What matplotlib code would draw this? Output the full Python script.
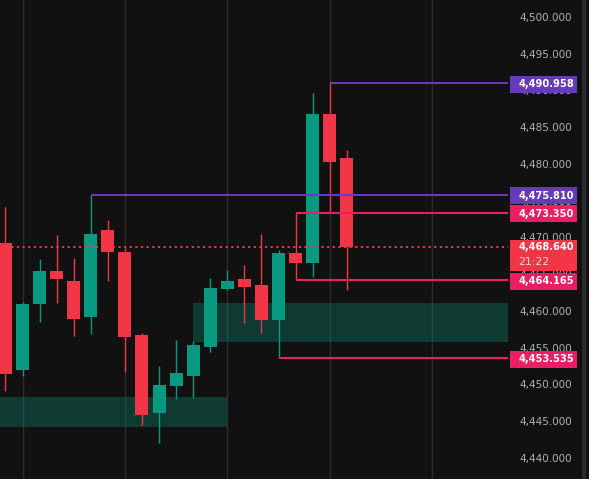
import matplotlib
matplotlib.use("Agg")
import matplotlib.pyplot as plt
from matplotlib.patches import Rectangle
import numpy as np

# ---- data ----
opens  = [4469.25, 4451.97, 4461.00, 4465.44, 4464.08, 4459.22, 4471.02, 4468.03, 4456.73, 4446.16,
          4449.84, 4451.20, 4455.10, 4462.99, 4464.35, 4463.54, 4458.78, 4467.89, 4466.53, 4486.80, 4480.82]
highs  = [4474.15, 4461.22, 4467.07, 4470.34, 4467.21, 4475.81, 4472.38, 4468.57, 4457.01, 4452.52,
          4456.05, 4455.90, 4464.49, 4465.58, 4466.26, 4470.48, 4468.30, 4473.35, 4489.66, 4490.958, 4481.90]
lows   = [4449.16, 4451.20, 4458.54, 4461.13, 4456.64, 4456.91, 4464.12, 4451.74, 4444.53, 4442.08,
          4448.07, 4448.16, 4454.42, 4462.90, 4458.37, 4457.01, 4453.535, 4464.165, 4464.63, 4473.35, 4462.86]
closes = [4451.47, 4460.95, 4465.44, 4464.39, 4458.95, 4470.48, 4468.07, 4456.50, 4445.89, 4449.93,
          4451.56, 4455.37, 4463.13, 4464.08, 4463.27, 4458.78, 4467.89, 4466.53, 4486.80, 4480.27, 4468.64]

level_prices = [4490.958, 4475.810, 4473.350, 4464.165, 4453.535]
level_starts = [19, 5, 17, 17, 16]
level_kinds  = ["purple", "purple", "pink", "pink", "pink"]

zone_lows   = [4444.22, 4455.82]
zone_highs  = [4448.30, 4461.09]
zone_starts = [-1.0, 11.0]
zone_ends   = [13.0, 40.0]

current_price = 4468.64
countdown = "21:22"
tick_values = list(range(4440, 4501, 5))

# ---- style ----
BG = "#111111"
GREEN = "#089981"
RED = "#f23645"
PURPLE = "#673ab7"
PINK = "#e91e63"
GRID = "#2c2c2c"
kind_color = {"purple": PURPLE, "pink": PINK}

W, H = 589, 479
fig = plt.figure(figsize=(W / 100, H / 100), dpi=100, facecolor=BG)
plot_w = 508
ax = fig.add_axes([0, 0, plot_w / W, 1])
ax.set_facecolor(BG)
px = 17.07
x_left = -5.43 / px
x_right = (plot_w - 5.43) / px
ymin, ymax = 4437.14, 4502.31
ax.set_xlim(x_left, x_right)
ax.set_ylim(ymin, ymax)
for s in ax.spines.values():
    s.set_visible(False)
ax.set_xticks([])

# vertical grid
for gx in [1, 7, 13, 19, 25]:
    ax.axvline(gx, color=GRID, lw=1.0, zorder=1)

# zones
for lo, hi, s, e in zip(zone_lows, zone_highs, zone_starts, zone_ends):
    ax.add_patch(Rectangle((s, lo), e - s, hi - lo, facecolor=GREEN, alpha=0.3,
                           edgecolor="none", zorder=2))

# candles
bw = 13 / px
for i, (o, h, l, c) in enumerate(zip(opens, highs, lows, closes)):
    col = GREEN if c >= o else RED
    ax.vlines(i, l, h, color=col, lw=1.0, zorder=3)
    lo_b, hi_b = min(o, c), max(o, c)
    ax.add_patch(Rectangle((i - bw / 2, lo_b), bw, max(hi_b - lo_b, 0.15),
                           facecolor=col, edgecolor="none", zorder=4))

# horizontal levels
for p, st, k in zip(level_prices, level_starts, level_kinds):
    ax.hlines(p, st, x_right, color=kind_color[k], lw=1.5, zorder=5)

# current price dotted line
ax.axhline(current_price, color=RED, lw=1.4, ls=(0, (1.1, 1.8)), zorder=5)

# price scale ticks
ax.yaxis.tick_right()
ax.set_yticks(tick_values)
ax.set_yticklabels([f"{v:,.3f}" for v in tick_values])
ax.tick_params(axis="y", length=0, pad=8, labelsize=7.5, labelcolor="#aeb0b6")

# price scale overlay axes for labels
ax2 = fig.add_axes([plot_w / W, 0, (W - plot_w) / W, 1])
ax2.set_xlim(0, W - plot_w)
ax2.set_ylim(ymin, ymax)
ax2.patch.set_alpha(0)
ax2.axis("off")

# scrollbar strip
ax2.add_patch(Rectangle((74, ymin), 4, ymax - ymin, facecolor="#2b2b2b",
                        edgecolor="none", zorder=1))

unit = 7.35  # px per price unit
bh = 16.7 / unit
for p, k in zip(level_prices, level_kinds):
    yc = p - 0.12
    ax2.add_patch(Rectangle((2, yc - bh / 2), 66.7, bh, facecolor=kind_color[k],
                            edgecolor="none", zorder=5))
    ax2.text(10.5, yc, f"{p:,.3f}", color="white", fontsize=7.1, fontweight="bold",
             va="center", ha="left", zorder=6)

# current price box
top = current_price + 7.5 / unit
bot = current_price - 23.2 / unit
ax2.add_patch(Rectangle((2, bot), 66.7, top - bot, facecolor=RED, edgecolor="none", zorder=5))
ax2.text(10.5, current_price, f"{current_price:,.3f}", color="white", fontsize=7.1,
         fontweight="bold", va="center", ha="left", zorder=6)
ax2.text(10.5, current_price - 14.5 / unit, countdown, color="#ffd3d6", fontsize=7.8,
         va="center", ha="left", zorder=6)

fig.savefig("out.png", dpi=100, facecolor=BG)
